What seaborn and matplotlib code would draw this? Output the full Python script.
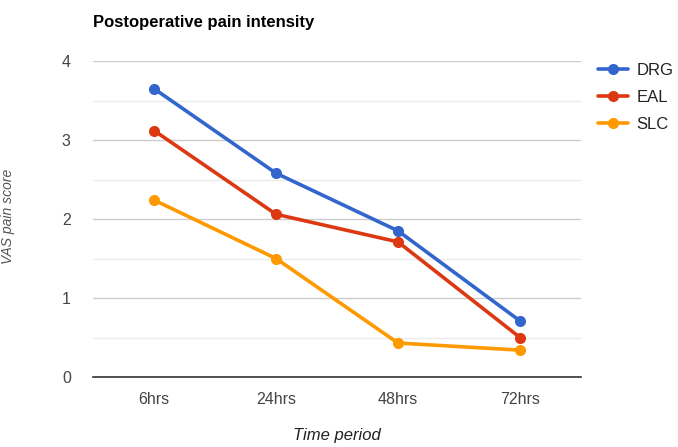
import matplotlib
matplotlib.use("Agg")
import matplotlib.pyplot as plt
import seaborn as sns
import pandas as pd
from matplotlib.lines import Line2D

time_periods = ["6hrs", "24hrs", "48hrs", "72hrs"]
drg = [3.65, 2.58, 1.85, 0.71]
eal = [3.12, 2.06, 1.71, 0.50]
slc = [2.24, 1.50, 0.43, 0.34]
groups = ["DRG", "EAL", "SLC"]
colors = ["#3366cc", "#dc3912", "#ff9900"]

rows = []
for g, vals in zip(groups, [drg, eal, slc]):
    for t, v in zip(time_periods, vals):
        rows.append({"Time period": t, "score": v, "group": g})
df = pd.DataFrame(rows)

sns.set_theme(style="white")
plt.rcParams['font.family'] = ['Arial', 'Liberation Sans', 'DejaVu Sans']

fig = plt.figure(figsize=(6.78, 4.47), dpi=100)
ax = fig.add_axes([93/678, 70/447, 488/678, 316/447])

sns.lineplot(data=df, x="Time period", y="score", hue="group", hue_order=groups,
             palette=colors, marker="o", markersize=8, markeredgewidth=0,
             linewidth=2.6, ax=ax, legend=False, sort=False)

ax.set_ylim(0, 4)
ax.set_xlim(-0.5, 3.5)
ax.set_yticks([0, 1, 2, 3, 4])
ax.set_yticks([0.5, 1.5, 2.5, 3.5], minor=True)
ax.grid(axis="y", which="major", color="#cccccc", linewidth=1.0)
ax.grid(axis="y", which="minor", color="#ebebeb", linewidth=1.0)
ax.set_axisbelow(True)
for s in ["top", "right", "left"]:
    ax.spines[s].set_visible(False)
ax.spines["bottom"].set_color("#333333")
ax.spines["bottom"].set_linewidth(1.2)
ax.tick_params(axis="both", which="both", length=0, colors="#444444", labelsize=11.5)
ax.tick_params(axis="x", pad=11)
ax.tick_params(axis="y", pad=16)

ax.set_xlabel("Time period", fontstyle="italic", color="#222222", fontsize=12, labelpad=15)
ax.set_ylabel("")
fig.text(0.012, 0.515, "VAS pain score", rotation=90, ha="center", va="center",
         fontstyle="italic", color="#555555", fontsize=10)

fig.text(93/678, 1 - 22/447, "Postoperative pain intensity", fontweight="bold",
         fontsize=12, color="#000000", ha="left", va="center")

handles = [Line2D([0], [0], color=c, linewidth=2.6, marker="o", markersize=8, markeredgewidth=0)
           for c in colors]
leg = fig.legend(handles, groups, loc="upper left", bbox_to_anchor=(598/678, 1 - 63/447),
                 frameon=False, fontsize=12, handlelength=1.8, handletextpad=0.5,
                 labelspacing=0.72, borderaxespad=0, borderpad=0)
for t in leg.get_texts():
    t.set_color("#222222")

fig.savefig("out.png", dpi=100)
